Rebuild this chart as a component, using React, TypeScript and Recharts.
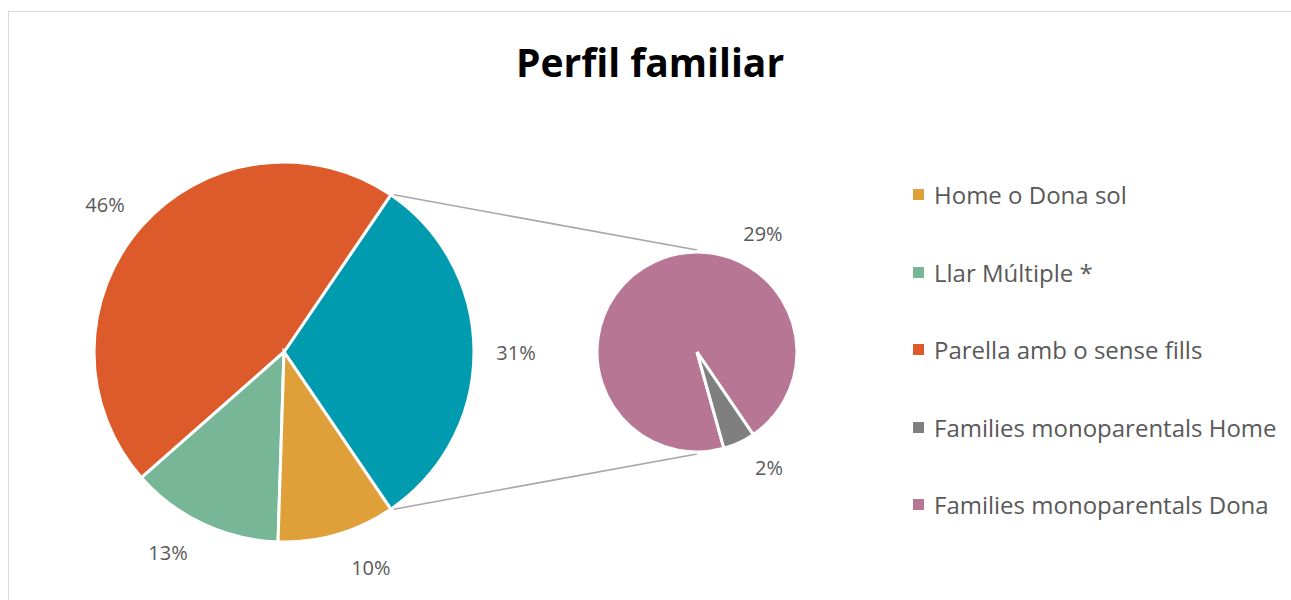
import { PieChart, Pie, Cell, Legend, Customized } from 'recharts';

// main pie: the 'Altres' slice is broken out into the secondary pie
const mainNames = ['Monoparentals', 'Parella amb o sense fills', 'Llar Múltiple *', 'Home o Dona sol'];
const mainValues = [31, 46, 13, 10];
const mainColors = ['#009BAE', '#DD5A2A', '#78B698', '#DFA03A'];

const subNames = ['Families monoparentals Dona', 'Families monoparentals Home'];
const subValues = [29.4, 1.6];
const subColors = ['#B77794', '#7F7F7F'];

const legendNames = [
  'Home o Dona sol',
  'Llar Múltiple *',
  'Parella amb o sense fills',
  'Families monoparentals Home',
  'Families monoparentals Dona',
];
const legendColors = ['#DFA03A', '#78B698', '#DD5A2A', '#7F7F7F', '#B77794'];

const mainData = mainNames.map((name, i) => ({ name, value: mainValues[i] }));
const subData = subNames.map((name, i) => ({ name, value: subValues[i] }));

const FONT = '"Open Sans", "Noto Sans", sans-serif';
const W = 1291;
const H = 600;
const MAIN = { cx: 284, cy: 352, r: 190 };
const SUB = { cx: 697, cy: 352, r: 100 };
// half of the broken-out slice, in degrees
const HALF = (mainValues[0] / mainValues.reduce((a, b) => a + b, 0)) * 180;

// Excel "best fit" puts a few labels off the mid angle
const LABEL_ANGLE: Record<string, number> = {
  'Parella amb o sense fills': 140.5,
  'Llar Múltiple *': 240,
  'Home o Dona sol': 292,
  'Families monoparentals Dona': 61,
  'Families monoparentals Home': -58,
};

const RAD = Math.PI / 180;

function makeLabel(gap: number) {
  return (props: any) => {
    const { cx, cy, outerRadius, midAngle, name, value } = props;
    const a = LABEL_ANGLE[name] ?? midAngle;
    const r = outerRadius + gap;
    const x = cx + r * Math.cos(a * RAD);
    const y = cy - r * Math.sin(a * RAD);
    return (
      <text x={x} y={y} fill="#595959" fontSize={20} fontFamily={FONT} textAnchor="middle" dominantBaseline="central">
        {Math.round(value)}%
      </text>
    );
  };
}

function Connectors() {
  const x1 = MAIN.cx + MAIN.r * Math.cos(HALF * RAD);
  const yTop = MAIN.cy - MAIN.r * Math.sin(HALF * RAD);
  const yBot = MAIN.cy + MAIN.r * Math.sin(HALF * RAD);
  return (
    <g stroke="#A6A6A6" strokeWidth={1.5}>
      <line x1={x1 + 3} y1={yTop} x2={SUB.cx} y2={SUB.cy - SUB.r - 2} />
      <line x1={x1 + 3} y1={yBot} x2={SUB.cx} y2={SUB.cy + SUB.r + 2} />
    </g>
  );
}

function LegendList() {
  return (
    <div style={{ fontFamily: FONT }}>
      {legendNames.map((name, i) => (
        <div key={name} style={{ display: 'flex', alignItems: 'center', height: 77.5 }}>
          <span style={{ width: 11, height: 11, background: legendColors[i], marginRight: 10 }} />
          <span style={{ fontSize: 24, color: '#595959', whiteSpace: 'nowrap' }}>{name}</span>
        </div>
      ))}
    </div>
  );
}

export default function App() {
  return (
    <div style={{ position: 'fixed', left: 0, top: 0, width: W, height: H, overflow: 'hidden', background: '#fff' }}>
      <div
        style={{
          position: 'absolute',
          left: 8,
          top: 11,
          width: 1400,
          height: 700,
          border: '1.5px solid #D9D9D9',
        }}
      />
      <div
        style={{
          position: 'absolute',
          left: 0,
          width: 1300,
          top: 37,
          textAlign: 'center',
          fontFamily: FONT,
          fontWeight: 700,
          fontSize: 39,
          lineHeight: '50px',
          color: '#000',
        }}
      >
        Perfil familiar
      </div>
      <div style={{ position: 'absolute', left: 0, top: 0 }}>
        <PieChart width={W} height={H} margin={{ top: 0, right: 0, bottom: 0, left: 0 }}>
          <Customized component={Connectors} />
          <Pie
            data={mainData}
            dataKey="value"
            nameKey="name"
            cx={MAIN.cx}
            cy={MAIN.cy}
            outerRadius={MAIN.r}
            startAngle={-HALF}
            endAngle={360 - HALF}
            stroke="#fff"
            strokeWidth={3}
            label={makeLabel(42)}
            labelLine={false}
            isAnimationActive={false}
          >
            {mainData.map((_, i) => (
              <Cell key={`m-${i}`} fill={mainColors[i]} />
            ))}
          </Pie>
          <Pie
            data={subData}
            dataKey="value"
            nameKey="name"
            cx={SUB.cx}
            cy={SUB.cy}
            outerRadius={SUB.r}
            startAngle={-HALF}
            endAngle={360 - HALF}
            stroke="#fff"
            strokeWidth={3}
            label={makeLabel(36)}
            labelLine={false}
            isAnimationActive={false}
          >
            {subData.map((_, i) => (
              <Cell key={`s-${i}`} fill={subColors[i]} />
            ))}
          </Pie>
          <Legend
            layout="vertical"
            verticalAlign="top"
            align="right"
            content={() => <LegendList />}
            wrapperStyle={{ left: 913, top: 156, width: 378 }}
          />
        </PieChart>
      </div>
    </div>
  );
}
